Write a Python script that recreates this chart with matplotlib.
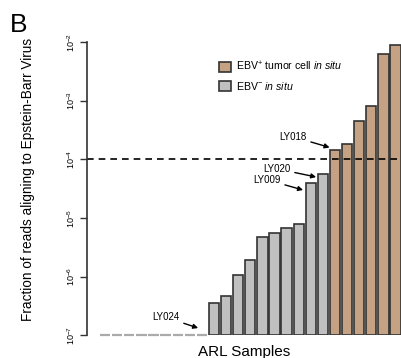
import numpy as np
import matplotlib
matplotlib.use("Agg")
from matplotlib import pyplot as plt

plt.rcParams['font.family'] = ['Liberation Sans', 'DejaVu Sans']
plt.rcParams['mathtext.fontset'] = 'custom'
plt.rcParams['mathtext.rm'] = 'Liberation Sans'
plt.rcParams['mathtext.it'] = 'Liberation Sans:italic'

# fraction of reads per sample (0 = none found)
zero_samples = [0, 0, 0, 0, 0, 0, 0, 0, 0]
ebv_neg = [3.5e-7, 4.6e-7, 1.06e-6, 1.9e-6, 4.7e-6, 5.6e-6, 6.7e-6, 8.0e-6, 3.9e-5, 5.6e-5]
ebv_pos = [1.45e-4, 1.82e-4, 4.5e-4, 8.0e-4, 6.3e-3, 8.9e-3]
ytick_vals = [1e-7, 1e-6, 1e-5, 1e-4, 1e-3, 1e-2]
ytick_labels = [r'$10^{-7}$', r'$10^{-6}$', r'$10^{-5}$', r'$10^{-4}$', r'$10^{-3}$', r'$10^{-2}$']
threshold = 1e-4

TAN = '#c4a283'
GREY = '#c0c0c0'
EDGE = '#333333'
BOT = 1e-7

fig = plt.figure(figsize=(4.01, 3.58), dpi=100)
ax = fig.add_axes([0.217, 0.064, 0.783, 0.818])

n0 = len(zero_samples)
x0 = np.arange(n0)
x_neg = np.arange(n0, n0 + len(ebv_neg))
x_pos = np.arange(n0 + len(ebv_neg), n0 + len(ebv_neg) + len(ebv_pos))
w = 0.85

# zero samples: just a grey stub on the baseline
ax.hlines([BOT] * n0, x0 - w / 2, x0 + w / 2, colors='#aaaaaa', lw=1.6, clip_on=False)

ax.bar(x_neg, np.array(ebv_neg) - BOT, bottom=BOT, width=w, color=GREY,
       edgecolor=EDGE, lw=1.2, label=r'EBV$^{-}$ $\mathit{in\ situ}$')
ax.bar(x_pos, np.array(ebv_pos) - BOT, bottom=BOT, width=w, color=TAN,
       edgecolor=EDGE, lw=1.2, label=r'EBV$^{+}$ tumor cell $\mathit{in\ situ}$')

ax.axhline(threshold, color='black', ls=(0, (4, 3)), lw=1.2)

ax.set_yscale('log')
ax.set_ylim(BOT, 1e-2)
ax.set_xlim(-1.49, 24.45)
ax.set_yticks(ytick_vals)
ax.set_yticklabels(ytick_labels, rotation=90, va='center', fontsize=6.5)
ax.minorticks_off()
ax.tick_params(axis='y', length=5, width=1, pad=2, color='#333333')
ax.set_xticks([])
for s in ['top', 'right', 'bottom']:
    ax.spines[s].set_visible(False)
ax.spines['left'].set_color('#333333')
ax.spines['left'].set_linewidth(1.2)

ax.set_ylabel('Fraction of reads aligning to Epstein-Barr Virus', fontsize=9.8)
ax.yaxis.set_label_coords(-0.165, 0.53)
ax.set_xlabel('ARL Samples', fontsize=11, labelpad=7)

h, l = ax.get_legend_handles_labels()
ax.legend(h[::-1], l[::-1], loc='upper left', bbox_to_anchor=(0.408, 0.955), frameon=False,
          fontsize=7.6, handlelength=1.1, handleheight=1.1, handletextpad=0.45,
          labelspacing=0.65, borderaxespad=0)

arrow = dict(arrowstyle='-|>', color='black', lw=1, mutation_scale=7,
             shrinkA=1, shrinkB=0)
ax.annotate('LY018', xy=(x_pos[0] - 0.45, 1.6e-4), xytext=(x_pos[0] - 3.46, 2.43e-4),
            fontsize=7, ha='center', va='center', arrowprops=arrow)
ax.annotate('LY020', xy=(x_neg[-1] - 0.56, 5.0e-5), xytext=(x_neg[-1] - 3.79, 6.9e-5),
            fontsize=7, ha='center', va='center', arrowprops=arrow)
ax.annotate('LY009', xy=(x_neg[-2] - 0.64, 3.0e-5), xytext=(x_neg[-2] - 3.61, 4.47e-5),
            fontsize=7, ha='center', va='center', arrowprops=arrow)
ax.annotate('LY024', xy=(x0[-1] - 0.31, 1.32e-7), xytext=(x0[-1] - 2.96, 2.0e-7),
            fontsize=7, ha='center', va='center', arrowprops=arrow)

fig.text(0.025, 0.897, 'B', fontsize=19, ha='left', va='bottom')

fig.savefig('out.png', dpi=100)
